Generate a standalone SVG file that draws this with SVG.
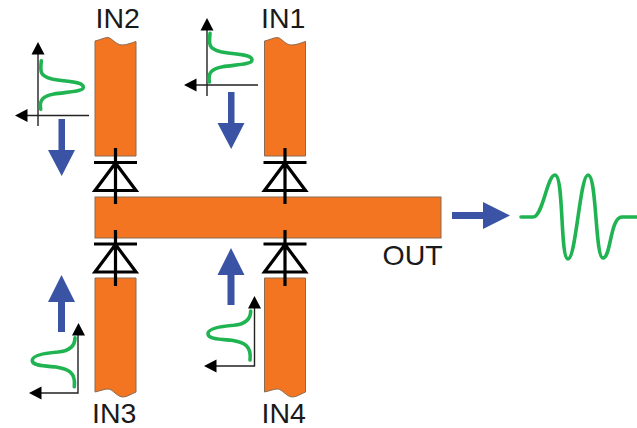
<svg xmlns="http://www.w3.org/2000/svg" xmlns:xlink="http://www.w3.org/1999/xlink" width="637" height="428" viewBox="0 0 637 428">
<style>
.strip{fill:#f47521;stroke:#8a6a50;stroke-width:1}
.d{fill:none;stroke:#000;stroke-width:3.2}
.ax{fill:none;stroke:#222;stroke-width:1.4}
.head{fill:#000}
.g{fill:none;stroke:#1fb451;stroke-width:3.6;stroke-linecap:round}
.b{fill:#3a53a4}
text{font-family:"Liberation Sans",Arial,sans-serif;font-size:28.500px;fill:#1a1a1a}
</style>
<defs>
<path id="gaussTop" class="g" d="M41.300,60.700 C40,72 40,76 52,79 C66,82 83.300,81 83.300,87.300 C83.300,92 66,92 54,94 C43,96 39,100 40.700,109.300"/>
<path id="gaussBot" class="g" d="M75,337.700 C75,347 68,351 58,352 C45,353 32,355 32.300,360.700 C32.500,366 45,366 56,367 C68,369 76,372 74.300,386.700"/>
<g id="diodeTop"><path class="d" d="M115.500,148 V204 M94,162.500 H137 M115.500,163 L95,190.500 H136 Z"/></g>
<g id="diodeBot"><path class="d" d="M115.500,230 V286 M94,244 H137 M115.500,244.500 L95,272 H136 Z"/></g>
<path id="arrowDown" class="b" d="M58.500,119 H65 V150 H75 L61.700,176 L48,150 H58.500 Z"/>
<path id="arrowUp" class="b" d="M58,332 H65 V302 H75 L61.500,275 L48,302 H58 Z"/>
</defs>
<g id="out-bar"><rect class="strip" x="95" y="197" width="346" height="41"/></g>
<g id="in2"><path class="strip" d="M95,41 C100,40 104,37.500 108,37.500 C112,38 116,45 122,45 C127,45 131,43 136,41.500 V156 H95 Z"/><text x="95.500" y="27.500">IN2</text></g>
<g id="in1"><path class="strip" d="M264.500,41 C269.500,40 273.500,37.500 277.500,37.500 C281.500,38 285.500,45 291.500,45 C296.500,45 300.500,43 305.500,41.500 V156 H264.500 Z"/><text x="261" y="27.500">IN1</text></g>
<g id="in3"><path class="strip" d="M95,278 H136 V392 C131,394 127,397 123,397 C117,397 113,389 108,389 C104,389 100,391 95,392 Z"/><text x="92" y="423">IN3</text></g>
<g id="in4"><path class="strip" d="M264.500,278 H305.500 V392 C300.500,394 296.500,397 292.500,397 C286.500,397 282.500,389 277.500,389 C273.500,389 269.500,391 264.500,392 Z"/><text x="261.500" y="423">IN4</text></g>
<g id="out-label"><text x="382.500" y="265">OUT</text></g>
<g id="connectors">
<use href="#diodeTop"/><use href="#diodeTop" x="169.500"/>
<use href="#diodeBot"/><use href="#diodeBot" x="169.500"/>
<path class="ax" d="M38,50 V126 M25,115.500 H89"/>
<path class="head" d="M38,42 L44.500,54.500 H31.500 Z M15,115.500 L27.500,109 V122 Z"/>
<path class="ax" d="M207,26 V96 M192,85 H258"/>
<path class="head" d="M207,18 L213.500,30.500 H200.500 Z M184,85 L196.500,78.500 V91.500 Z"/>
<path class="ax" d="M78,331 V393 H37"/>
<path class="head" d="M78.500,323 L85,335.500 H72 Z M29,393 L41.500,386.500 V399.500 Z"/>
<path class="ax" d="M254.500,304 V366 H212"/>
<path class="head" d="M254.500,296 L261,308.500 H248 Z M204,366 L216.500,359.500 V372.500 Z"/>
<use href="#gaussTop"/><use href="#gaussTop" x="168.700" y="-27.300"/>
<use href="#gaussBot"/><use href="#gaussBot" x="175.700" y="-26.700"/>
<use href="#arrowDown"/><use href="#arrowDown" x="169.500" y="-27"/>
<use href="#arrowUp"/><use href="#arrowUp" x="169.500" y="-27"/>
<path class="b" d="M452,212 H483 V202 L510,215.500 L483,229 V219 H452 Z"/>
<path class="g" d="M521,217 H533 C543,217 547,175 555,175 C564,175 560,259 568,259 C576,259 580,175 588,175 C597,175 595,258 603,258 C611,258 610,217 622,217 H637"/>
</g>
</svg>
